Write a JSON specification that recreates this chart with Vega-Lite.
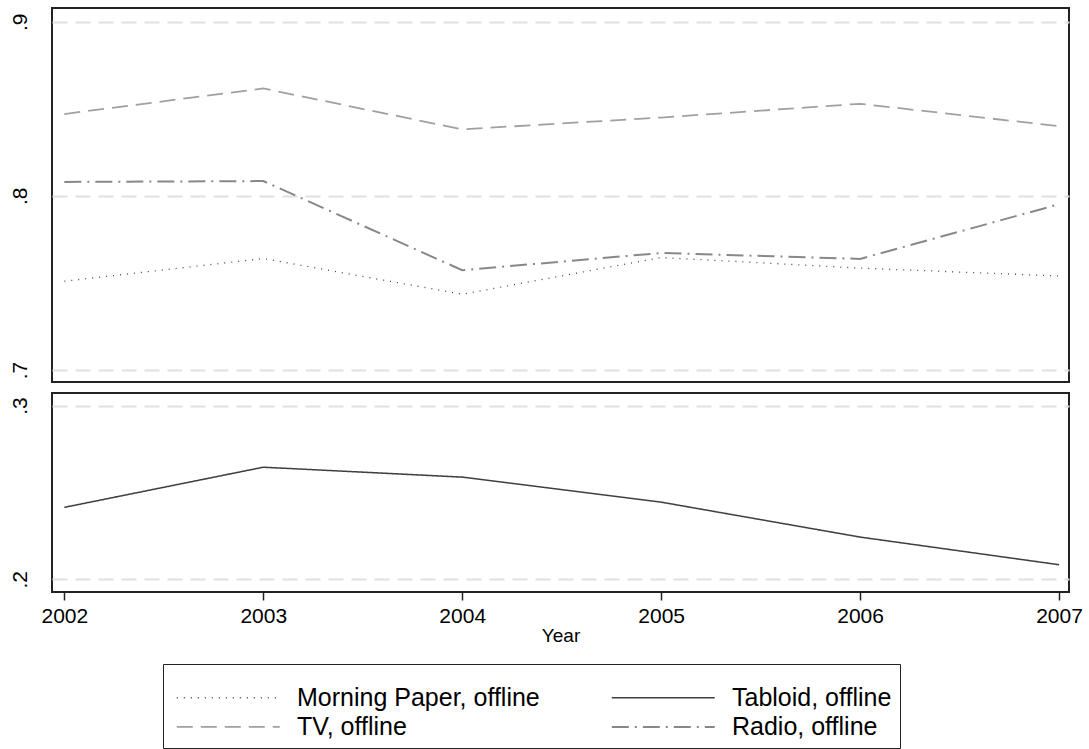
{
  "$schema": "https://vega.github.io/schema/vega-lite/v6.json",
  "padding": {"left": 8, "top": 7, "right": 10, "bottom": 5},
  "background": "white",
  "config": {
    "font": "Liberation Sans",
    "view": {"stroke": "#222222", "strokeWidth": 2},
    "axis": {"labelColor": "black", "titleColor": "black"}
  },
  "datasets": {
    "d": [
      {"Year": 2002, "series": "Morning Paper, offline", "value": 0.751},
      {"Year": 2003, "series": "Morning Paper, offline", "value": 0.764},
      {"Year": 2004, "series": "Morning Paper, offline", "value": 0.7435},
      {"Year": 2005, "series": "Morning Paper, offline", "value": 0.7646},
      {"Year": 2006, "series": "Morning Paper, offline", "value": 0.7585},
      {"Year": 2007, "series": "Morning Paper, offline", "value": 0.754},
      {"Year": 2002, "series": "TV, offline", "value": 0.847},
      {"Year": 2003, "series": "TV, offline", "value": 0.8617},
      {"Year": 2004, "series": "TV, offline", "value": 0.8382},
      {"Year": 2005, "series": "TV, offline", "value": 0.845},
      {"Year": 2006, "series": "TV, offline", "value": 0.8529},
      {"Year": 2007, "series": "TV, offline", "value": 0.840},
      {"Year": 2002, "series": "Radio, offline", "value": 0.808},
      {"Year": 2003, "series": "Radio, offline", "value": 0.8085},
      {"Year": 2004, "series": "Radio, offline", "value": 0.7573},
      {"Year": 2005, "series": "Radio, offline", "value": 0.7672},
      {"Year": 2006, "series": "Radio, offline", "value": 0.7638},
      {"Year": 2007, "series": "Radio, offline", "value": 0.7952},
      {"Year": 2002, "series": "Tabloid, offline", "value": 0.2414},
      {"Year": 2003, "series": "Tabloid, offline", "value": 0.2645},
      {"Year": 2004, "series": "Tabloid, offline", "value": 0.2588},
      {"Year": 2005, "series": "Tabloid, offline", "value": 0.2444},
      {"Year": 2006, "series": "Tabloid, offline", "value": 0.2243},
      {"Year": 2007, "series": "Tabloid, offline", "value": 0.2084}
    ]
  },
  "spacing": 9,
  "resolve": {"scale": {"y": "independent", "x": "shared", "color": "shared", "strokeDash": "shared", "strokeWidth": "shared"}},
  "vconcat": [
    {
      "width": 1017,
      "height": 374,
      "data": {"name": "d"},
      "transform": [{"filter": "datum.series !== 'Tabloid, offline'"}],
      "mark": {"type": "line", "clip": true},
      "encoding": {
        "x": {"field": "Year", "type": "quantitative",
              "scale": {"domain": [2001.938, 2007.05], "nice": false, "zero": false},
              "axis": null},
        "y": {"field": "value", "type": "quantitative",
              "scale": {"domain": [0.6931, 0.9079], "nice": false, "zero": false},
              "axis": {"title": null, "values": [0.7, 0.8, 0.9], "ticks": false, "tickSize": 0, "domain": false,
                       "labelExpr": "replace(format(datum.value, '.1f'), '0.', '.')",
                       "labelFontSize": 21, "labelAngle": -90, "labelAlign": "center", "labelBaseline": "alphabetic",
                       "labelPadding": 26,
                       "grid": true, "gridColor": "#e0e0e0", "gridDash": [15, 8], "gridWidth": 2}},
        "color": {"field": "series", "type": "nominal",
                  "scale": {"domain": ["Morning Paper, offline", "Tabloid, offline", "TV, offline", "Radio, offline"],
                            "range": ["#444444", "#404040", "#a0a0a0", "#888888"]},
                  "legend": {"title": " ", "titleFontSize": 6, "titlePadding": 7,
                             "orient": "none", "legendX": 111, "legendY": 656, "columns": 2, "direction": "horizontal",
                             "symbolType": "M-1.3,0H18.7", "symbolSize": 106, "symbolStrokeWidth": 2,
                             "symbolFillColor": "transparent",
                             "labelFontSize": 25, "labelColor": "black", "labelOffset": 101, "labelLimit": 0,
                             "columnPadding": 66, "rowPadding": 3.4, "padding": 8,
                             "strokeColor": "#222222", "fillColor": "white"}},
        "strokeDash": {"field": "series", "type": "nominal",
                       "scale": {"domain": ["Morning Paper, offline", "Tabloid, offline", "TV, offline", "Radio, offline"],
                                 "range": [[1, 6], [1, 0], [16, 8], [17, 6, 2, 6]]},
                       "legend": {"title": " "}},
        "strokeWidth": {"field": "series", "type": "nominal",
                        "scale": {"domain": ["Morning Paper, offline", "Tabloid, offline", "TV, offline", "Radio, offline"],
                                  "range": [1.3, 2, 2, 2]},
                        "legend": {"title": " "}}
      }
    },
    {
      "width": 1017,
      "height": 199,
      "data": {"name": "d"},
      "transform": [{"filter": "datum.series === 'Tabloid, offline'"}],
      "mark": {"type": "line", "clip": true},
      "encoding": {
        "x": {"field": "Year", "type": "quantitative",
              "scale": {"domain": [2001.938, 2007.05], "nice": false, "zero": false},
              "axis": {"title": "Year", "values": [2002, 2003, 2004, 2005, 2006, 2007], "format": "d",
                       "domain": false, "grid": false, "tickSize": 8, "tickColor": "#222222", "tickWidth": 1.5,
                       "labelFontSize": 21, "labelPadding": 5, "titleFontSize": 19, "titleFontWeight": "normal",
                       "titlePadding": 0}},
        "y": {"field": "value", "type": "quantitative",
              "scale": {"domain": [0.1927, 0.3072], "nice": false, "zero": false},
              "axis": {"title": null, "values": [0.2, 0.3], "ticks": false, "tickSize": 0, "domain": false,
                       "labelExpr": "replace(format(datum.value, '.1f'), '0.', '.')",
                       "labelFontSize": 21, "labelAngle": -90, "labelAlign": "center", "labelBaseline": "alphabetic",
                       "labelPadding": 26,
                       "grid": true, "gridColor": "#e0e0e0", "gridDash": [15, 8], "gridWidth": 2}},
        "color": {"field": "series", "type": "nominal"},
        "strokeDash": {"field": "series", "type": "nominal"},
        "strokeWidth": {"field": "series", "type": "nominal"}
      }
    }
  ]
}
